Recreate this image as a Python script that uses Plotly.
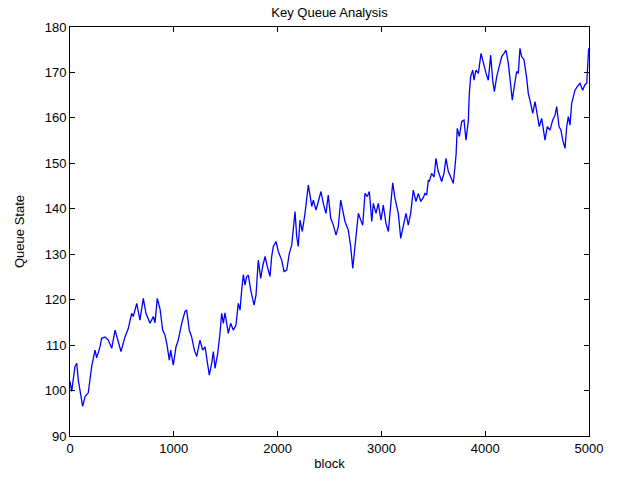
import plotly.graph_objects as go

blocks = [0, 16, 48, 65, 80, 122, 145, 176, 209, 224, 241, 257, 289, 305, 337, 369, 402, 434, 465, 491,
          530, 562, 594, 610, 643, 674, 706, 732, 771, 803, 819, 841, 867, 893, 915, 932, 957, 970, 995, 1021,
          1043, 1076, 1108, 1124, 1149, 1172, 1198, 1221, 1252, 1278, 1301, 1323, 1342, 1365, 1381, 1397, 1423, 1445, 1461, 1477,
          1493, 1525, 1548, 1573, 1599, 1621, 1638, 1654, 1670, 1686, 1702, 1718, 1741, 1773, 1792, 1814, 1837, 1856, 1879, 1901,
          1927, 1943, 1959, 1985, 2007, 2039, 2062, 2088, 2113, 2136, 2151, 2168, 2184, 2199, 2216, 2238, 2264, 2280, 2296, 2312,
          2329, 2344, 2370, 2392, 2418, 2440, 2466, 2488, 2512, 2537, 2563, 2585, 2608, 2627, 2649, 2681, 2704, 2724, 2736, 2762,
          2778, 2801, 2820, 2842, 2864, 2884, 2907, 2922, 2948, 2970, 2996, 3018, 3044, 3067, 3090, 3109, 3131, 3163, 3186, 3211,
          3237, 3259, 3282, 3307, 3333, 3356, 3379, 3404, 3420, 3436, 3452, 3461, 3484, 3507, 3526, 3548, 3581, 3603, 3622, 3645,
          3668, 3693, 3709, 3719, 3731, 3751, 3774, 3796, 3815, 3837, 3847, 3860, 3880, 3892, 3911, 3934, 3960, 3982, 4008, 4030,
          4053, 4072, 4088, 4111, 4136, 4159, 4181, 4200, 4223, 4239, 4261, 4280, 4303, 4319, 4335, 4351, 4374, 4400, 4415, 4438,
          4458, 4480, 4502, 4521, 4544, 4560, 4576, 4598, 4624, 4650, 4673, 4689, 4711, 4730, 4747, 4769, 4785, 4801, 4817, 4833,
          4849, 4865, 4887, 4913, 4939, 4961, 4978, 4987, 4997, 5000]

queue_state = [102, 99.8, 105.3, 106, 102.3, 96.5, 98.7, 99.5, 105.3, 106.7, 108.9, 107.2, 109.6, 111.5, 111.8, 111.1, 109.3, 113.3, 110.5, 108.6,
               111.8, 113.7, 117, 116.3, 119.2, 115.5, 120.3, 117, 114.8, 116.3, 114.9, 120.3, 118, 113.3, 112.2, 110.4, 106.7, 108.9, 105.6, 109.6,
               111.1, 114.8, 117.4, 117.7, 113.3, 111.8, 108.9, 107.5, 111.1, 108.9, 109.6, 106, 103.4, 106, 108.6, 104.9, 108.2, 112.6, 117, 114.8,
               117.1, 112.6, 114.8, 113.3, 114.4, 119.2, 117.7, 122.1, 125.5, 123.2, 125.1, 125.4, 122.1, 118.8, 121, 128.7, 124.7, 127.3, 129.5, 127.3,
               125.1, 129.5, 131.7, 132.8, 130.6, 128.7, 126.2, 126.5, 130.2, 132, 135, 139.4, 133.9, 131.7, 137.5, 135, 139, 141.6, 145.2, 143,
               140.5, 141.9, 139.7, 141.6, 143.8, 141.2, 139, 143, 137.9, 136.4, 134.2, 136.1, 141.9, 139.7, 137.2, 135.3, 131.7, 126.9, 129.5, 136.1,
               139, 137.5, 136.4, 143.4, 142.7, 143.8, 137.2, 141.2, 139, 141.2, 137.5, 140.8, 136.8, 135, 140.5, 145.7, 142.3, 139, 133.5, 136.1,
               139, 136.4, 139, 144.1, 141.6, 143.4, 141.6, 142.5, 143.4, 143, 146.3, 146, 147.8, 147, 151.1, 148.2, 146, 147.8, 151.1, 148.2,
               147, 145.6, 149.3, 151.8, 157.7, 155.9, 159.2, 159.5, 155.1, 159.2, 165.4, 169.1, 170.5, 168.3, 170.5, 169.8, 174.2, 172, 169.8, 168.3,
               173.8, 168.3, 165.8, 169.1, 171.3, 173.5, 174.2, 174.9, 172, 168.3, 163.9, 166.9, 170.2, 169.8, 175.3, 173.5, 172.8, 168.7, 165.4, 163.2,
               161, 163.6, 160.3, 158.1, 159.9, 157.3, 155.1, 158.1, 157.3, 159.5, 160.6, 162.5, 158.1, 157.3, 155.1, 153.3, 158.1, 160.3, 158.4, 163.2,
               164.7, 166.1, 166.9, 167.6, 166.1, 167.3, 167.6, 172, 175.3, 175]

x_ticks = [0, 1000, 2000, 3000, 4000, 5000]
y_ticks = [90, 100, 110, 120, 130, 140, 150, 160, 170, 180]

font = "Liberation Sans, Arial, Helvetica, sans-serif"

fig = go.Figure()
fig.add_trace(go.Scatter(x=blocks, y=queue_state, mode="lines",
                         line=dict(color="#0000FF", width=1.3), showlegend=False))

axis_common = dict(showline=True, linecolor="black", linewidth=1, mirror="ticks",
                   ticks="inside", ticklen=5, tickcolor="black", showgrid=False,
                   zeroline=False, tickfont=dict(family=font, size=13, color="black"))

fig.update_layout(
    width=627, height=483,
    margin=dict(l=70, r=38, t=27, b=47),
    paper_bgcolor="white", plot_bgcolor="white",
    title=dict(text="Key Queue Analysis", x=0.5255, xanchor="center", y=0.975, yanchor="middle",
               font=dict(family=font, size=13, color="black")),
    xaxis=dict(range=[0, 5000], tickvals=x_ticks, ticktext=[str(v) for v in x_ticks],
               title=dict(text="block", font=dict(family=font, size=13, color="black"), standoff=4),
               **axis_common),
    yaxis=dict(range=[90, 180], tickvals=y_ticks, ticktext=[str(v) for v in y_ticks],
               title=dict(text="Queue State", font=dict(family=font, size=13, color="black"), standoff=17),
               **axis_common),
)

fig.write_html("out.html")
